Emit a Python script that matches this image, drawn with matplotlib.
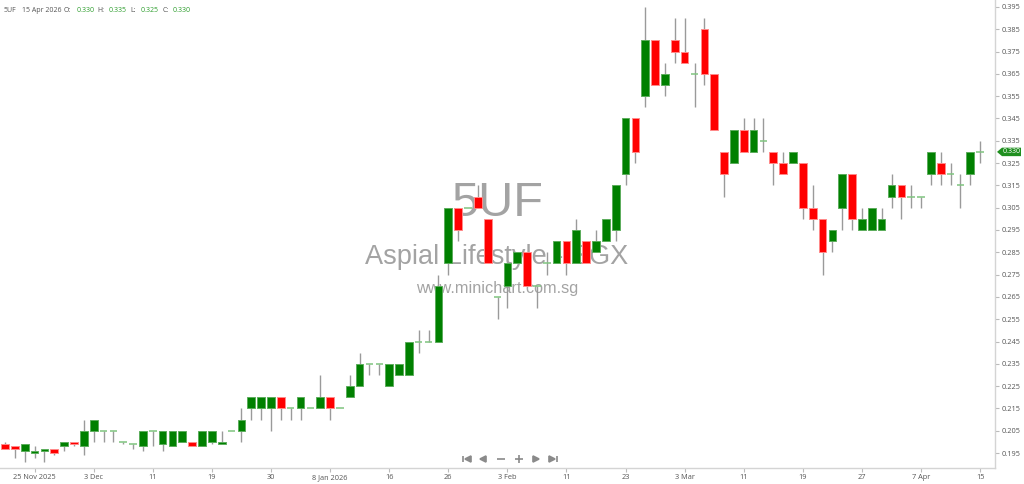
import matplotlib
matplotlib.use("Agg")
import matplotlib.pyplot as plt
from matplotlib.lines import Line2D
from matplotlib.patches import Polygon
from matplotlib.transforms import blended_transform_factory

# daily OHLC, 20 Nov 2025 .. 15 Apr 2026 (trading days only)
opens = [0.199, 0.198, 0.196, 0.195, 0.196, 0.197, 0.198, 0.200, 0.198, 0.205,
         0.205, 0.205, 0.200, 0.199, 0.198, 0.205, 0.199, 0.198, 0.200, 0.200,
         0.198, 0.200, 0.199, 0.205, 0.205, 0.215, 0.215, 0.215, 0.220, 0.215,
         0.215, 0.215, 0.215, 0.220, 0.215, 0.220, 0.225, 0.235, 0.235, 0.225,
         0.230, 0.230, 0.245, 0.245, 0.245, 0.280, 0.305, 0.305, 0.310, 0.300,
         0.265, 0.270, 0.280, 0.285, 0.270, 0.280, 0.280, 0.290, 0.280, 0.290,
         0.285, 0.290, 0.295, 0.320, 0.345, 0.355, 0.380, 0.360, 0.380, 0.375,
         0.365, 0.385, 0.365, 0.330, 0.325, 0.340, 0.330, 0.335, 0.330, 0.325,
         0.325, 0.325, 0.305, 0.300, 0.290, 0.305, 0.320, 0.295, 0.295, 0.295,
         0.310, 0.315, 0.310, 0.310, 0.320, 0.325, 0.320, 0.315, 0.320, 0.330]
highs = [0.200, 0.198, 0.199, 0.198, 0.197, 0.197, 0.200, 0.200, 0.210, 0.210,
         0.205, 0.205, 0.200, 0.199, 0.205, 0.205, 0.205, 0.205, 0.205, 0.200,
         0.205, 0.205, 0.205, 0.205, 0.215, 0.220, 0.220, 0.220, 0.220, 0.215,
         0.220, 0.215, 0.230, 0.220, 0.215, 0.230, 0.240, 0.235, 0.235, 0.235,
         0.235, 0.245, 0.250, 0.250, 0.275, 0.305, 0.305, 0.305, 0.315, 0.300,
         0.265, 0.280, 0.285, 0.285, 0.270, 0.285, 0.290, 0.290, 0.300, 0.290,
         0.295, 0.300, 0.315, 0.345, 0.345, 0.395, 0.380, 0.370, 0.390, 0.390,
         0.370, 0.390, 0.365, 0.330, 0.340, 0.345, 0.345, 0.345, 0.330, 0.330,
         0.330, 0.325, 0.315, 0.300, 0.295, 0.320, 0.320, 0.305, 0.305, 0.305,
         0.320, 0.315, 0.315, 0.310, 0.330, 0.330, 0.325, 0.320, 0.330, 0.335]
lows = [0.197, 0.193, 0.191, 0.193, 0.191, 0.194, 0.196, 0.198, 0.194, 0.200,
        0.200, 0.200, 0.199, 0.197, 0.196, 0.198, 0.196, 0.198, 0.200, 0.198,
        0.198, 0.199, 0.199, 0.205, 0.200, 0.210, 0.210, 0.205, 0.210, 0.210,
        0.210, 0.215, 0.215, 0.210, 0.215, 0.220, 0.225, 0.230, 0.230, 0.225,
        0.230, 0.230, 0.240, 0.245, 0.245, 0.275, 0.290, 0.305, 0.305, 0.280,
        0.255, 0.260, 0.280, 0.270, 0.260, 0.275, 0.280, 0.275, 0.280, 0.280,
        0.285, 0.290, 0.290, 0.315, 0.325, 0.350, 0.360, 0.355, 0.370, 0.370,
        0.350, 0.360, 0.340, 0.310, 0.325, 0.330, 0.330, 0.330, 0.315, 0.320,
        0.325, 0.300, 0.295, 0.275, 0.285, 0.295, 0.295, 0.295, 0.295, 0.295,
        0.305, 0.300, 0.305, 0.305, 0.315, 0.315, 0.315, 0.305, 0.315, 0.325]
closes = [0.197, 0.197, 0.199, 0.196, 0.197, 0.195, 0.200, 0.199, 0.205, 0.210,
          0.205, 0.205, 0.200, 0.199, 0.205, 0.205, 0.205, 0.205, 0.205, 0.198,
          0.205, 0.205, 0.200, 0.205, 0.210, 0.220, 0.220, 0.220, 0.215, 0.215,
          0.220, 0.215, 0.220, 0.215, 0.215, 0.225, 0.235, 0.235, 0.235, 0.235,
          0.235, 0.245, 0.245, 0.245, 0.270, 0.305, 0.295, 0.305, 0.305, 0.280,
          0.265, 0.280, 0.285, 0.270, 0.270, 0.280, 0.290, 0.280, 0.295, 0.280,
          0.290, 0.300, 0.315, 0.345, 0.330, 0.380, 0.360, 0.365, 0.375, 0.370,
          0.365, 0.365, 0.340, 0.320, 0.340, 0.330, 0.340, 0.335, 0.325, 0.320,
          0.330, 0.305, 0.300, 0.285, 0.295, 0.320, 0.300, 0.300, 0.305, 0.300,
          0.315, 0.310, 0.310, 0.310, 0.330, 0.320, 0.320, 0.315, 0.330, 0.330]

tick_pos = [3, 9, 15, 21, 27, 33, 39, 45, 51, 57, 63, 69, 75, 81, 87, 93, 99]
tick_labels = ['25 Nov 2025', '3 Dec', '11', '19', '30', '8 Jan 2026', '16', '26',
               '3 Feb', '11', '23', '3 Mar', '11', '19', '27', '7 Apr', '15']
price_ticks = [0.195, 0.205, 0.215, 0.225, 0.235, 0.245, 0.255, 0.265, 0.275, 0.285,
               0.295, 0.305, 0.315, 0.325, 0.335, 0.345, 0.355, 0.365, 0.375, 0.385, 0.395]

symbol = '5UF'
name = 'Aspial Lifestyle - SGX'
last_date = '15 Apr 2026'

W, H = 1024, 484
AX_R = 995  # right axis line, pixels
fig = plt.figure(figsize=(W / 100, H / 100), dpi=100)
fig.patch.set_facecolor('white')
ax = fig.add_axes([0, 16 / H, AX_R / W, 468 / H])
ax.set_facecolor('white')

GREEN = '#008000'
GREEN_EDGE = '#5cad5c'
RED = '#ff0000'
RED_EDGE = '#ff8a8a'
DOJI = '#7fc47f'
WICK = '#9a9a9a'
TXT = '#555555'

# watermark behind the candles
fx = 497 / AX_R
ax.text(fx, 1 - 203 / 468, symbol, transform=ax.transAxes, ha='center',
        va='center', fontsize=35, color='#a3a3a3', family='Liberation Sans', zorder=0)
ax.text(fx, 1 - 257 / 468, name, transform=ax.transAxes, ha='center',
        va='center', fontsize=19.5, color='#a3a3a3', family='Liberation Sans', zorder=0)
ax.text(fx, 1 - 288 / 468, 'www.minichart.com.sg', transform=ax.transAxes,
        ha='center', va='center', fontsize=11.7, color='#a3a3a3',
        family='Liberation Sans', zorder=0)

idx = list(range(len(opens)))
ax.vlines(idx, lows, highs, color=WICK, linewidth=1.0, zorder=2)

for i in idx:
    o, c = opens[i], closes[i]
    if abs(c - o) < 1e-9:
        ax.hlines(o, i - 0.38, i + 0.38, color=DOJI, linewidth=1.1, zorder=3)
        continue
    up = c > o
    ax.bar(i, abs(c - o), bottom=min(o, c), width=0.78,
           color=GREEN if up else RED, edgecolor=GREEN_EDGE if up else RED_EDGE,
           linewidth=0.7, zorder=3)

ax.set_xlim(-0.51, (AX_R - 5) / 9.85)
ax.set_ylim(0.1883, 0.3981)

for side in ['left', 'top']:
    ax.spines[side].set_visible(False)
for side in ['right', 'bottom']:
    ax.spines[side].set_color('#d4d4d4')
    ax.spines[side].set_linewidth(1.0)

ax.yaxis.tick_right()
ax.set_yticks(price_ticks)
ax.set_yticklabels(['%.3f' % p for p in price_ticks])
ax.set_xticks(tick_pos)
ax.set_xticklabels(tick_labels)
ax.tick_params(axis='both', colors='#bbbbbb', labelcolor=TXT, labelsize=5.3,
               length=3, width=0.8, pad=1.5)
for lab in ax.get_xticklabels() + ax.get_yticklabels():
    lab.set_family('Open Sans')

# last price tag on the right axis
tr = blended_transform_factory(fig.transFigure, ax.transData)
last = closes[-1]
hh = 0.0019
tag = Polygon([(997 / W, last), (1002 / W, last + hh), (1021 / W, last + hh),
               (1021 / W, last - hh), (1002 / W, last - hh)], closed=True,
              facecolor='#1f8f1f', edgecolor='none', transform=tr, clip_on=False, zorder=5)
ax.add_patch(tag)
ax.text(1003 / W, last, '%.3f' % last, transform=tr, color='white', fontsize=5,
        va='center', ha='left', family='Open Sans', clip_on=False, zorder=6)

# header line
hy = 1 - 10.5 / H
header = [(3.5, symbol, TXT), (22.5, last_date, TXT),
          (64, 'O:', TXT), (76.5, '%.3f' % opens[-1], '#2e9e2e'),
          (97, 'H:', TXT), (108.5, '%.3f' % highs[-1], '#2e9e2e'),
          (130.5, 'L:', TXT), (140.5, '%.3f' % lows[-1], '#2e9e2e'),
          (162.5, 'C:', TXT), (172.5, '%.3f' % closes[-1], '#2e9e2e')]
for x, s, col in header:
    fig.text(x / W, hy, s, color=col, fontsize=5.0, va='center', ha='left',
             family='Open Sans')

# navigation buttons
ny = 1 - 459 / H
nav = [(463, '|', 5), (468, '<', 4), (483, '<', 4), (501, '_', 6),
       (519, '+', 6), (536, '>', 4), (552, '>', 4), (557, '|', 5)]
for x, m, s in nav:
    fig.add_artist(Line2D([x / W], [ny], marker=m, markersize=s, color='#8a8a8a',
                          markeredgecolor='#8a8a8a', markeredgewidth=1.2,
                          linestyle='none', transform=fig.transFigure))

fig.savefig('out.png', dpi=100, facecolor='white')
